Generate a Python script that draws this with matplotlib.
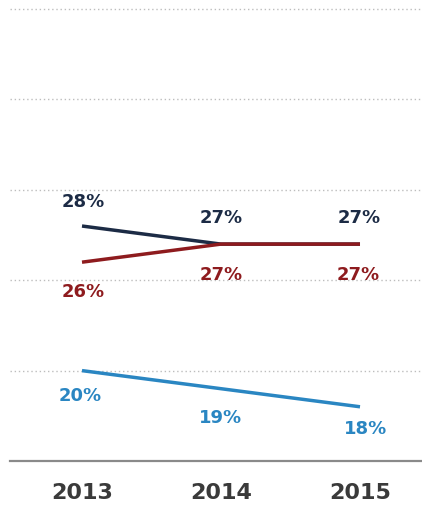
import matplotlib.pyplot as plt

# data
years = ["2013", "2014", "2015"]
navy_vals = [28, 27, 27]
red_vals = [26, 27, 27]
blue_vals = [20, 19, 18]

# label offsets in pixels (dx, dy) for each point
navy_offsets = [(1, 25), (0, 27), (-1, 27)]
red_offsets = [(1, -29), (0, -30), (-2, -30)]
blue_offsets = [(-2, -24), (-1, -28), (6, -21)]

navy = "#1c2b45"
red = "#8e1b1e"
blue = "#2a86c2"

fig = plt.figure(figsize=(4.22, 5.06), dpi=100)
ax = fig.add_axes([10 / 422, 44 / 506, 412 / 422, 462 / 506])

x = list(range(len(years)))

# dotted gridlines
for g in [20, 25, 30, 35, 40]:
    ax.axhline(g, color="#bdbdbd", linestyle=(0, (1, 2)), linewidth=1.0, zorder=0)

ax.plot(x, navy_vals, color=navy, linewidth=2.5, solid_capstyle="butt", zorder=3)
ax.plot(x, red_vals, color=red, linewidth=2.5, solid_capstyle="butt", zorder=4)
ax.plot(x, blue_vals, color=blue, linewidth=2.5, solid_capstyle="butt", zorder=3)

for vals, offs, col in [(navy_vals, navy_offsets, navy),
                        (red_vals, red_offsets, red),
                        (blue_vals, blue_offsets, blue)]:
    for xi, v, (dx, dy) in zip(x, vals, offs):
        ax.annotate(f"{v}%", (xi, v), xytext=(dx, dy), textcoords="offset pixels",
                    ha="center", va="center", color=col, fontsize=13,
                    fontweight="bold")

ax.set_xlim(-0.518, 2.446)
ax.set_ylim(15, 40.56)

for s in ["top", "left", "right"]:
    ax.spines[s].set_visible(False)
ax.spines["bottom"].set_color("#8a8a8a")
ax.spines["bottom"].set_linewidth(1.6)

ax.set_yticks([])
ax.set_xticks(x)
ax.set_xticklabels(years, fontsize=16, fontweight="bold", color="#3a3a3a")
ax.tick_params(axis="x", length=0, pad=15)

fig.savefig("out.png", dpi=100)
